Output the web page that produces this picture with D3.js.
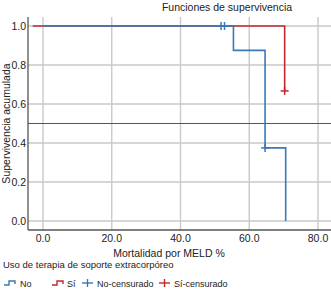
<!DOCTYPE html>
<html>
<head>
<meta charset="utf-8">
<script src="https://cdn.jsdelivr.net/npm/d3@7"></script>
<style>
  body { margin: 0; background: #fff; }
  svg { display: block; font-family: "Liberation Sans", Arial, sans-serif; }
</style>
</head>
<body>
<div id="chart"></div>
<script>
// curves
var noTimes = [0, 55.4, 64.6, 70.6];
var noSurv  = [1, 0.875, 0.375, 0];
var siTimes = [-3, 70.3];
var siSurv  = [1, 0.667];
var noCensT = [51.8, 52.8, 64.6];
var noCensS = [1, 1, 0.375];
var siCensT = [70.3];
var siCensS = [0.667];
var xTicks = [0, 20, 40, 60, 80];
var yTicks = [0, 0.2, 0.4, 0.6, 0.8, 1.0];

var blue = "#3a78b6", red = "#c0282e";

var svg = d3.select("#chart").append("svg")
  .attr("width", 331).attr("height", 294);

var x = d3.scaleLinear().domain([0, 80]).range([43, 318]);
var y = d3.scaleLinear().domain([0, 1]).range([221, 26]);
var pl = 28, pr = 331, pt = 17, pb = 230;

// grid
svg.append("g").selectAll("line").data(xTicks).enter().append("line")
  .attr("x1", d => x(d)).attr("x2", d => x(d))
  .attr("y1", pt).attr("y2", pb)
  .attr("stroke", "#c9c9c9").attr("stroke-width", 1.4);
svg.append("g").selectAll("line").data(yTicks).enter().append("line")
  .attr("x1", pl).attr("x2", pr)
  .attr("y1", d => y(d)).attr("y2", d => y(d))
  .attr("stroke", "#c9c9c9").attr("stroke-width", 1.4);

// reference line at 0.5
svg.append("line")
  .attr("x1", pl).attr("x2", pr)
  .attr("y1", y(0.5)).attr("y2", y(0.5))
  .attr("stroke", "#555").attr("stroke-width", 1);

// axes
svg.append("line").attr("x1", pl).attr("x2", pl).attr("y1", pt).attr("y2", pb)
  .attr("stroke", "#555").attr("stroke-width", 1.3);
svg.append("line").attr("x1", pl).attr("x2", pr).attr("y1", pb).attr("y2", pb)
  .attr("stroke", "#555").attr("stroke-width", 1.3);

svg.append("g").selectAll("text").data(yTicks).enter().append("text")
  .attr("x", 26).attr("y", d => y(d) + 3.8)
  .attr("text-anchor", "end").attr("font-size", 10.5).attr("fill", "#222")
  .text(d => d.toFixed(1));
svg.append("g").selectAll("text").data(xTicks).enter().append("text")
  .attr("x", d => x(d)).attr("y", 242)
  .attr("text-anchor", "middle").attr("font-size", 10.5).attr("fill", "#222")
  .text(d => d.toFixed(1));

// titles
svg.append("text").attr("x", 227).attr("y", 11).attr("text-anchor", "middle")
  .attr("font-size", 10.5).attr("fill", "#222").text("Funciones de supervivencia");
svg.append("text").attr("x", 169).attr("y", 257).attr("text-anchor", "middle")
  .attr("font-size", 10.5).attr("fill", "#222").text("Mortalidad por MELD %");
svg.append("text").attr("transform", "translate(10," + ((pt + pb) / 2) + ") rotate(-90)")
  .attr("text-anchor", "middle").attr("font-size", 10.5).attr("fill", "#222")
  .text("Supervivencia acumulada");

function stepPath(ts, ss) {
  var p = "M" + x(ts[0]) + "," + y(ss[0]);
  for (var i = 1; i < ts.length; i++) {
    p += "H" + x(ts[i]) + "V" + y(ss[i]);
  }
  return p;
}

svg.append("path").attr("d", stepPath(siTimes, siSurv))
  .attr("fill", "none").attr("stroke", red).attr("stroke-width", 1.6);
svg.append("path").attr("d", stepPath(noTimes, noSurv))
  .attr("fill", "none").attr("stroke", blue).attr("stroke-width", 1.6);

function censor(ts, ss, col) {
  var g = svg.append("g");
  ts.forEach(function(t, i) {
    var cx = x(t), cy = y(ss[i]);
    g.append("line").attr("x1", cx).attr("x2", cx).attr("y1", cy - 4).attr("y2", cy + 4)
      .attr("stroke", col).attr("stroke-width", 1.5);
    g.append("line").attr("x1", cx - 4).attr("x2", cx + 4).attr("y1", cy).attr("y2", cy)
      .attr("stroke", col).attr("stroke-width", 1.5);
  });
}
censor(siCensT, siCensS, red);
censor(noCensT, noCensS, blue);

// legend
svg.append("text").attr("x", 3).attr("y", 268).attr("font-size", 9.5).attr("fill", "#222")
  .text("Uso de terapia de soporte extracorpóreo");

var ly = 283;
function stepIcon(x0, col) {
  svg.append("path")
    .attr("d", "M" + x0 + "," + (ly + 2) + "h5v-4h6v3")
    .attr("fill", "none").attr("stroke", col).attr("stroke-width", 1.4);
}
function plusIcon(x0, col) {
  svg.append("line").attr("x1", x0).attr("x2", x0 + 11).attr("y1", ly).attr("y2", ly)
    .attr("stroke", col).attr("stroke-width", 1.4);
  svg.append("line").attr("x1", x0 + 5.5).attr("x2", x0 + 5.5).attr("y1", ly - 4).attr("y2", ly + 4)
    .attr("stroke", col).attr("stroke-width", 1.4);
}
function legText(x0, t) {
  svg.append("text").attr("x", x0).attr("y", ly + 3.5).attr("font-size", 9).attr("fill", "#222").text(t);
}
stepIcon(4, blue);   legText(20, "No");
stepIcon(52, red);   legText(67, "Sí");
plusIcon(82, blue);  legText(97, "No-censurado");
plusIcon(159, red);  legText(174, "Sí-censurado");
</script>
</body>
</html>
